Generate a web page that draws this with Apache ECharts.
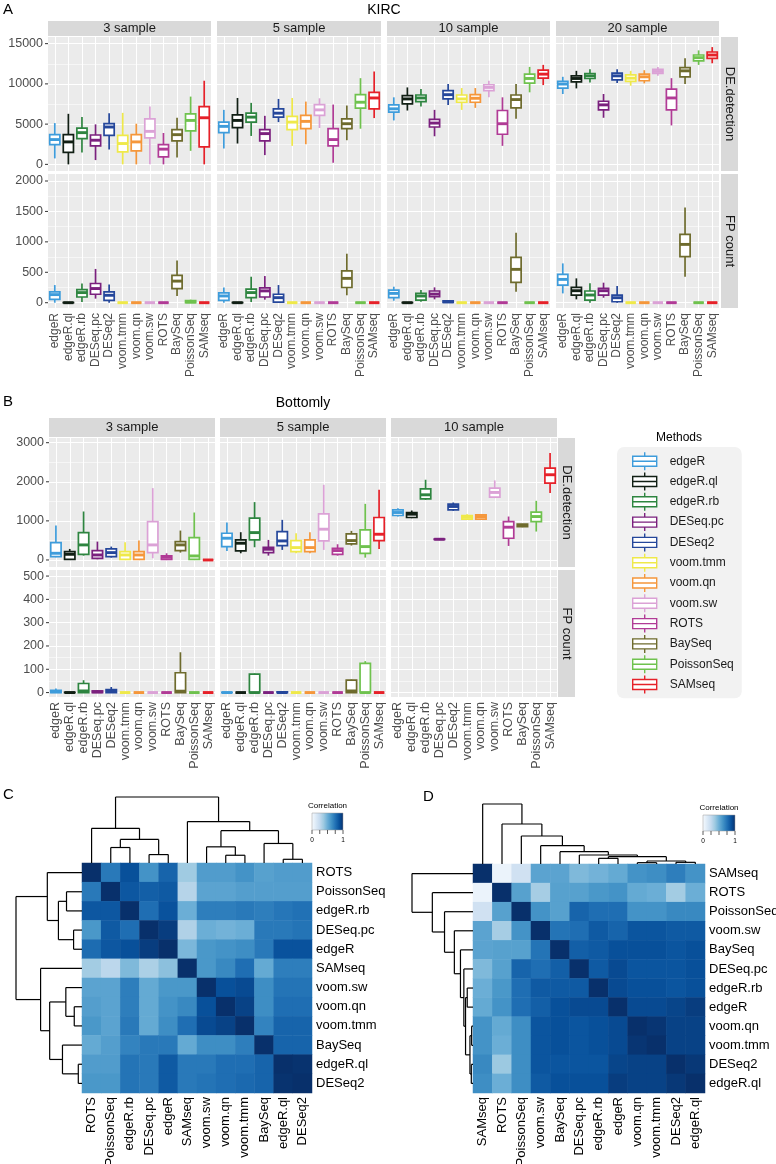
<!DOCTYPE html>
<html><head><meta charset="utf-8">
<script src="https://cdn.jsdelivr.net/npm/echarts@6/dist/echarts.min.js"></script>
<style>html,body{margin:0;padding:0;background:#fff}#main{width:776px;height:1164px}</style>
</head><body><div id="main"></div>
<script>
// ---------------- data ----------------
const methods = ['edgeR','edgeR.ql','edgeR.rb','DESeq.pc','DESeq2','voom.tmm','voom.qn','voom.sw','ROTS','BaySeq','PoissonSeq','SAMseq'];
const methodColors = ['#3E9CDB','#111F14','#2E8540','#7B217E','#25479B','#EFE94A','#F5973B','#DBA2D6','#B13B96','#6E6B2D','#6FC24E','#E62129'];

// box stats per method: [min, q1, median, q3, max]
const kircDE3 = [[740,2460,3080,3690,5130],[0,1480,2790,3690,6280],[1480,3200,3940,4510,5870],[530,2300,3000,3650,4970],[1850,3610,4640,5050,6360],[0,1560,2590,3610,6400],[0,1680,2790,3690,5050],[0,3280,4100,5660,7180],[0,940,1890,2460,3900],[860,2910,3690,4310,5790],[1680,4150,5460,6280,8420],[0,2180,5790,7180,10390]];
const kircDE5 = [[1970,3940,4720,5250,6770],[2590,4560,5460,6160,8250],[3530,5250,5870,6360,7640],[1150,2910,3820,4310,6030],[5250,5870,6360,6900,8130],[2300,4310,5250,5950,8250],[2500,4430,5340,6080,7800],[4520,6080,6770,7430,8210],[200,2300,3080,4430,7430],[3000,4430,5050,5660,7310],[4430,6980,7720,8660,10710],[5750,6900,8250,8950,11540]];
const kircDE10 = [[5460,6490,6900,7390,8330],[6690,7510,8130,8540,9560],[7180,7800,8250,8620,9360],[3490,4640,5130,5580,6770],[7390,8130,8660,9150,9980],[6770,7720,8130,8620,9480],[7020,7720,8210,8660,9480],[8330,9150,9560,9890,10390],[2300,3740,5050,6690,8330],[5660,7020,8050,8620,9980],[8950,10100,10670,11210,12110],[9850,10710,11210,11700,12360]];
const kircDE20 = [[8740,9480,9980,10300,10880],[9440,10260,10670,11000,11620],[10180,10670,11000,11290,11820],[5790,6770,7390,7840,8740],[10100,10510,11000,11330,11820],[9770,10300,10710,11120,11620],[10060,10390,10880,11210,11700],[11000,11290,11540,11820,12110],[4840,6770,8250,9360,10710],[9980,10880,11620,12030,13180],[12360,12850,13260,13590,14160],[12560,13180,13590,13960,14570]];
const kircFP3 = [[0,55,133,178,290],[0,0,0,3,8],[11,94,166,216,316],[67,139,233,316,555],[0,39,122,178,300],[0,0,0,0,0],[0,0,0,0,0],[0,0,0,0,0],[0,0,0,0,0],[111,233,355,450,694],[0,0,11,33,50],[0,0,0,0,0]];
const kircFP5 = [[0,39,111,161,250],[0,0,0,3,8],[11,83,166,222,427],[50,94,194,244,438],[0,11,83,139,290],[0,0,0,0,0],[0,0,0,0,0],[0,0,0,0,0],[0,0,0,0,0],[122,250,400,522,805],[0,0,0,0,0],[0,0,0,0,0]];
const kircFP10 = [[33,82,153,208,263],[0,0,0,3,8],[16,44,110,153,208],[55,99,142,192,252],[0,5,15,30,40],[0,0,0,0,0],[0,0,0,0,0],[0,0,0,0,0],[0,0,0,0,0],[181,334,548,745,1150],[0,0,0,0,0],[0,0,0,0,0]];
const kircFP20 = [[153,290,383,465,646],[55,126,197,252,400],[0,44,126,192,318],[82,126,197,235,329],[0,16,82,126,274],[0,0,0,0,0],[0,0,0,0,0],[0,0,0,0,0],[0,0,0,0,0],[427,756,958,1123,1566],[0,0,0,0,0],[0,0,0,0,0]];

const bottomlyDE3 = [[68,85,171,445,880],[0,17,145,214,282],[111,145,385,700,1240],[17,43,128,240,470],[60,85,188,282,342],[0,17,128,214,453],[0,17,128,214,496],[43,188,385,983,1838],[0,17,68,103,171],[188,240,385,470,752],[0,17,103,573,1214],[0,0,0,0,0]];
const bottomlyDE5 = [[231,342,556,684,958],[171,231,428,513,710],[325,513,700,1069,1480],[111,188,274,325,513],[257,368,487,727,1026],[171,214,316,496,684],[171,214,316,513,710],[257,487,787,1180,1924],[111,145,240,299,402],[368,410,496,667,744],[60,171,342,770,1436],[282,496,658,1086,1795]];
const bottomlyDE10 = [[1111,1137,1214,1283,1325],[1069,1086,1171,1214,1265],[1539,1565,1667,1821,2052],[520,525,530,535,540],[1257,1283,1368,1428,1471],[1026,1043,1094,1137,1171],[1043,1043,1111,1154,1171],[1582,1607,1727,1838,2035],[359,556,838,983,1111],[838,855,881,915,923],[727,983,1111,1223,1513],[1710,1967,2180,2351,2736]];
const bottomlyFP3 = [[0,0,4,10,17],[0,0,0,1,2],[0,0,7,39,53],[0,0,3,7,10],[0,0,7,13,24],[0,0,0,0,0],[0,0,0,0,0],[0,0,0,0,0],[0,0,0,0,0],[0,0,6,85,173],[0,0,0,0,0],[0,0,0,0,0]];
const bottomlyFP5 = [[0,0,0,1,2],[0,0,0,0,0],[0,0,0,79,82],[0,0,0,0,0],[0,0,0,3,6],[0,0,0,0,0],[0,0,0,0,0],[0,0,0,0,0],[0,0,0,0,0],[0,0,7,53,56],[0,0,0,125,135],[0,0,0,0,0]];
const bottomlyFP10 = [];

// tick labels
const kircDETicks = [0,5000,10000,15000];
const kircDEMinor = [2500,7500,12500];
const kircFPTicks = [0,500,1000,1500,2000];
const kircFPMinor = [250,750,1250,1750];
const botDETicks = [0,1000,2000,3000];
const botDEMinor = [500,1500,2500];
const botFPTicks = [0,100,200,300,400,500];
const botFPMinor = [50,150,250,350,450];

// correlation heatmaps
const orderC = ['ROTS','PoissonSeq','edgeR.rb','DESeq.pc','edgeR','SAMseq','voom.sw','voom.qn','voom.tmm','BaySeq','edgeR.ql','DESeq2'];
const corrC = [
 [1.00,0.72,0.88,0.62,0.80,0.37,0.58,0.58,0.62,0.56,0.58,0.58],
 [0.72,1.00,0.85,0.82,0.84,0.30,0.55,0.55,0.57,0.57,0.57,0.57],
 [0.85,0.85,1.00,0.76,0.87,0.50,0.70,0.70,0.72,0.70,0.73,0.75],
 [0.60,0.84,0.76,1.00,0.95,0.32,0.50,0.48,0.50,0.72,0.72,0.74],
 [0.77,0.85,0.88,0.95,1.00,0.46,0.60,0.62,0.64,0.72,0.87,0.87],
 [0.36,0.28,0.45,0.33,0.42,1.00,0.60,0.66,0.76,0.52,0.70,0.70],
 [0.55,0.55,0.70,0.52,0.60,0.60,1.00,0.88,0.90,0.64,0.74,0.74],
 [0.57,0.55,0.70,0.52,0.62,0.66,0.88,1.00,0.93,0.64,0.76,0.76],
 [0.60,0.55,0.72,0.52,0.64,0.76,0.90,0.93,1.00,0.68,0.80,0.80],
 [0.52,0.57,0.68,0.72,0.72,0.52,0.64,0.64,0.70,1.00,0.80,0.80],
 [0.58,0.58,0.74,0.72,0.84,0.72,0.72,0.76,0.76,0.80,1.00,0.99],
 [0.60,0.60,0.74,0.72,0.84,0.72,0.74,0.76,0.78,0.80,0.99,1.00]];
const orderD = ['SAMseq','ROTS','PoissonSeq','voom.sw','BaySeq','DESeq.pc','edgeR.rb','edgeR','voom.qn','voom.tmm','DESeq2','edgeR.ql'];
const corrD = [
 [1.00,0.06,0.20,0.55,0.55,0.45,0.48,0.52,0.62,0.64,0.70,0.62],
 [0.06,1.00,0.56,0.35,0.56,0.56,0.60,0.62,0.52,0.50,0.36,0.50],
 [0.20,0.56,1.00,0.62,0.56,0.80,0.76,0.76,0.62,0.62,0.66,0.66],
 [0.55,0.35,0.62,1.00,0.74,0.76,0.84,0.80,0.86,0.86,0.84,0.84],
 [0.55,0.56,0.56,0.74,1.00,0.82,0.84,0.88,0.88,0.88,0.86,0.88],
 [0.45,0.56,0.80,0.76,0.82,1.00,0.84,0.90,0.86,0.86,0.86,0.88],
 [0.50,0.60,0.76,0.84,0.84,0.84,1.00,0.90,0.88,0.88,0.86,0.88],
 [0.52,0.62,0.76,0.82,0.88,0.90,0.90,1.00,0.90,0.90,0.92,0.95],
 [0.62,0.52,0.64,0.86,0.88,0.86,0.88,0.90,1.00,0.98,0.93,0.93],
 [0.62,0.50,0.64,0.86,0.88,0.86,0.88,0.90,0.98,1.00,0.93,0.93],
 [0.66,0.38,0.64,0.86,0.86,0.86,0.86,0.92,0.93,0.93,1.00,0.97],
 [0.64,0.50,0.64,0.84,0.88,0.88,0.88,0.95,0.93,0.93,0.97,1.00]];
// dendrograms: [mergeHeight, left, right]
const treeC = [196, [103,'ROTS',[70,[46,'PoissonSeq','edgeR.rb'],[25,'DESeq.pc','edgeR']]], [123,'SAMseq',[96,[48,'voom.sw',[23,'voom.qn','voom.tmm']],[58,'BaySeq',[11,'edgeR.ql','DESeq2']]]]];
const treeD = [180,'SAMseq',[120,'ROTS',[84,'PoissonSeq',[55,'voom.sw',[37,'BaySeq',[27,'DESeq.pc',[22,[17,'edgeR.rb','edgeR'],[9,[4,'voom.qn','voom.tmm'],[5,'DESeq2','edgeR.ql']]]]]]]]];

// ---------------- styling / building ----------------
const FONT = '"Liberation Sans", Arial, Helvetica, sans-serif';
const AXIS_TXT = '#4D4D4D';
const BLUES = ['#F7FBFF','#DEEBF7','#C6DBEF','#9ECAE1','#6BAED6','#4292C6','#2171B5','#08519C','#08306B'];
const grids = [], xAxes = [], yAxes = [], series = [], graphics = [];

function renderBox(params, api) {
  const i = api.value(0);
  const color = methodColors[i];
  const bw = api.size([1, 0])[0] * 0.75;
  const pLo = api.coord([i, api.value(1)]);
  const pQ1 = api.coord([i, api.value(2)]);
  const pMed = api.coord([i, api.value(3)]);
  const pQ3 = api.coord([i, api.value(4)]);
  const pHi = api.coord([i, api.value(5)]);
  const cx = pMed[0], lw = 1.7;
  return {type: 'group', children: [
    {type: 'line', shape: {x1: cx, y1: pHi[1], x2: cx, y2: pQ3[1]}, style: {stroke: color, lineWidth: lw}},
    {type: 'line', shape: {x1: cx, y1: pQ1[1], x2: cx, y2: pLo[1]}, style: {stroke: color, lineWidth: lw}},
    {type: 'rect', shape: {x: cx - bw / 2, y: pQ3[1], width: bw, height: pQ1[1] - pQ3[1]}, style: {fill: '#FFFFFF', stroke: color, lineWidth: lw}},
    {type: 'line', shape: {x1: cx - bw / 2, y1: pMed[1], x2: cx + bw / 2, y2: pMed[1]}, style: {stroke: color, lineWidth: 2.9}}
  ]};
}

function addFacet(left, top, width, height, yMin, yMax, major, minor, boxes, showY, showX, xFont) {
  const gi = grids.length;
  grids.push({left, top, width, height, show: true, backgroundColor: '#EBEBEB', borderWidth: 0, outerBoundsMode: 'none'});
  xAxes.push({gridIndex: gi, type: 'category', data: methods, axisLine: {show: false},
    axisTick: {show: showX, alignWithLabel: true, length: 3, lineStyle: {color: '#333333', width: 1}},
    axisLabel: {show: showX, rotate: 90, interval: 0, hideOverlap: false, fontSize: xFont, color: AXIS_TXT, fontFamily: FONT, margin: 5},
    splitLine: {show: false}});
  yAxes.push({gridIndex: gi, type: 'value', min: yMin, max: yMax, show: false});
  const lines = [];
  major.forEach(v => lines.push({yAxis: v, lineStyle: {width: 1.1}, label: {show: showY}}));
  minor.forEach(v => lines.push({yAxis: v, lineStyle: {width: 0.55}, label: {show: false}}));
  methods.forEach((m, i) => lines.push({xAxis: i, lineStyle: {width: 1.1}, label: {show: false}}));
  series.push({type: 'custom', name: 'facet' + gi, xAxisIndex: gi, yAxisIndex: gi, z: 3, clip: false,
    encode: {x: 0, y: [1, 2, 3, 4, 5]}, renderItem: renderBox,
    data: boxes.map((b, i) => [i].concat(b)),
    markLine: {silent: true, symbol: ['none', 'none'], z: 1, animation: false, precision: 0,
      lineStyle: {color: '#FFFFFF', type: 'solid'},
      emphasis: {disabled: true},
      label: {position: 'start', distance: 0,
        formatter: p => '{v|' + p.value + '}{t| }',
        rich: {v: {fontSize: 12.5, color: AXIS_TXT, fontFamily: FONT, padding: [0, 2, 0, 0], verticalAlign: 'middle'},
               t: {width: 3, height: 1, backgroundColor: '#333333', verticalAlign: 'middle'}}},
      data: lines}});
}

function strip(x, y, w, h, text, vertical, fs) {
  graphics.push({type: 'rect', shape: {x, y, width: w, height: h}, style: {fill: '#D9D9D9'}, z: 1});
  graphics.push({type: 'text', x: x + w / 2, y: y + h / 2, rotation: vertical ? -Math.PI / 2 : 0, z: 2,
    style: {text, fill: '#1A1A1A', font: fs + 'px ' + FONT, align: 'center', verticalAlign: 'middle', textAlign: 'center', textVerticalAlign: 'middle'}});
}
function label(x, y, text, fs, align) {
  graphics.push({type: 'text', x, y, z: 2,
    style: {text, fill: '#000000', font: fs + 'px ' + FONT, align: align || 'center', verticalAlign: 'middle', textAlign: align || 'center', textVerticalAlign: 'middle'}});
}

// ---- Panel A (KIRC)
const kircCols = [[48, 163, '3 sample', kircDE3, kircFP3], [217, 164, '5 sample', kircDE5, kircFP5], [387, 163, '10 sample', kircDE10, kircFP10], [556, 163, '20 sample', kircDE20, kircFP20]];
kircCols.forEach((c, k) => {
  addFacet(c[0], 37, c[1], 134, -825, 15825, kircDETicks, kircDEMinor, c[3], k === 0, false, 12);
  addFacet(c[0], 174, c[1], 134, -87, 2115, kircFPTicks, kircFPMinor, c[4], k === 0, true, 12);
  strip(c[0], 21, c[1], 15, c[2], false, 13);
});
strip(721, 37, 17, 134, 'DE.detection', true, 13);
strip(721, 174, 17, 134, 'FP count', true, 13);
label(3, 10, 'A', 15, 'left');
label(384, 10, 'KIRC', 14);

// ---- Panel B (Bottomly)
const botCols = [[49, 166, '3 sample', bottomlyDE3, bottomlyFP3], [220, 166, '5 sample', bottomlyDE5, bottomlyFP5], [391, 166, '10 sample', bottomlyDE10, bottomlyFP10]];
botCols.forEach((c, k) => {
  addFacet(c[0], 438, c[1], 129, -180, 3120, botDETicks, botDEMinor, c[3], k === 0, false, 12.5);
  addFacet(c[0], 570, c[1], 127, -19, 526, botFPTicks, botFPMinor, c[4], k === 0, true, 12.5);
  strip(c[0], 418, c[1], 19, c[2], false, 13);
});
strip(558, 438, 17, 129, 'DE.detection', true, 13);
strip(558, 570, 17, 127, 'FP count', true, 13);
label(3, 402, 'B', 15, 'left');
label(303, 403, 'Bottomly', 14);
label(679, 438, 'Methods', 12);

// legend dummy series
methods.forEach((m, i) => series.push({type: 'custom', name: m, coordinateSystem: 'none', data: [], renderItem: () => null,
  itemStyle: {color: '#FFFFFF', borderColor: methodColors[i], borderWidth: 1.4}}));

// ---- Heatmaps
function heatData(mat) { const d = []; mat.forEach((row, r) => row.forEach((v, c) => d.push([c, r, v]))); return d; }
function dendroSegments(tree, order, swap) {
  const segs = [];
  function walk(node) {
    if (typeof node === 'string') return {p: order.indexOf(node), h: 0};
    const a = walk(node[1]), b = walk(node[2]), h = node[0];
    const s = [[a.p, a.h, a.p, h], [b.p, b.h, b.p, h], [a.p, h, b.p, h]];
    s.forEach(q => segs.push(swap ? [q[1], q[0], q[3], q[2]] : q));
    return {p: (a.p + b.p) / 2, h};
  }
  walk(tree);
  return segs;
}
function renderSeg(params, api) {
  const a = api.coord([api.value(0), api.value(1)]);
  const b = api.coord([api.value(2), api.value(3)]);
  return {type: 'line', shape: {x1: a[0], y1: a[1], x2: b[0], y2: b[1]}, style: {stroke: '#000000', lineWidth: 1.2}};
}
const heatIdx = [];
function addHeat(order, mat, tree, hl, ht, hw, hh, topH, leftW) {
  let gi = grids.length;
  grids.push({left: hl, top: ht, width: hw, height: hh, outerBoundsMode: 'none'});
  xAxes.push({gridIndex: gi, type: 'category', data: order, position: 'bottom', axisLine: {show: false}, axisTick: {show: false},
    axisLabel: {rotate: 90, interval: 0, hideOverlap: false, fontSize: 13, color: '#000000', fontFamily: FONT, margin: 4}, splitLine: {show: false}});
  yAxes.push({gridIndex: gi, type: 'category', data: order, inverse: true, position: 'right', axisLine: {show: false}, axisTick: {show: false},
    axisLabel: {interval: 0, hideOverlap: false, fontSize: 13, color: '#000000', fontFamily: FONT, margin: 4}, splitLine: {show: false}});
  heatIdx.push(series.length);
  series.push({type: 'heatmap', xAxisIndex: gi, yAxisIndex: gi, data: heatData(mat), itemStyle: {borderWidth: 0}, emphasis: {disabled: true}});
  const rootH = tree[0];
  // top dendrogram
  gi = grids.length;
  grids.push({left: hl, top: ht - topH, width: hw, height: topH, outerBoundsMode: 'none'});
  xAxes.push({gridIndex: gi, type: 'value', min: -0.5, max: order.length - 0.5, show: false});
  yAxes.push({gridIndex: gi, type: 'value', min: 0, max: rootH, show: false});
  series.push({type: 'custom', xAxisIndex: gi, yAxisIndex: gi, renderItem: renderSeg, encode: {x: [0, 2], y: [1, 3]}, clip: false,
    data: dendroSegments(tree, order, false)});
  // left dendrogram
  gi = grids.length;
  grids.push({left: hl - leftW, top: ht, width: leftW, height: hh, outerBoundsMode: 'none'});
  xAxes.push({gridIndex: gi, type: 'value', min: 0, max: rootH, inverse: true, show: false});
  yAxes.push({gridIndex: gi, type: 'value', min: -0.5, max: order.length - 0.5, inverse: true, show: false});
  series.push({type: 'custom', xAxisIndex: gi, yAxisIndex: gi, renderItem: renderSeg, encode: {x: [0, 2], y: [1, 3]}, clip: false,
    data: dendroSegments(tree, order, true)});
}
addHeat(orderC, corrC, treeC, 82, 863, 230, 230, 66, 66);
addHeat(orderD, corrD, treeD, 473, 864, 232, 229, 60, 61);
label(3, 795, 'C', 15, 'left');
label(423, 797, 'D', 15, 'left');

function colorbar(x, y, w, h) {
  graphics.push({type: 'text', x: x + w / 2, y: y - 7, z: 2, style: {text: 'Correlation', fill: '#000', font: '8px ' + FONT, align: 'center', verticalAlign: 'middle', textAlign: 'center', textVerticalAlign: 'middle'}});
  graphics.push({type: 'rect', shape: {x, y, width: w, height: h}, z: 2,
    style: {fill: {type: 'linear', x: 0, y: 0, x2: 1, y2: 0, colorStops: BLUES.map((c, i) => ({offset: i / (BLUES.length - 1), color: c}))}, stroke: '#9A9A9A', lineWidth: 0.5}});
  for (let k = 0; k <= 4; k++) {
    const xx = x + w * k / 4;
    graphics.push({type: 'line', z: 2, shape: {x1: xx, y1: y + h, x2: xx, y2: y + h + 4}, style: {stroke: '#333', lineWidth: 0.8}});
  }
  graphics.push({type: 'text', x: x, y: y + h + 10, z: 2, style: {text: '0', fill: '#000', font: '6.5px ' + FONT, align: 'center', verticalAlign: 'middle', textAlign: 'center', textVerticalAlign: 'middle'}});
  graphics.push({type: 'text', x: x + w, y: y + h + 10, z: 2, style: {text: '1', fill: '#000', font: '6.5px ' + FONT, align: 'center', verticalAlign: 'middle', textAlign: 'center', textVerticalAlign: 'middle'}});
}
colorbar(312, 813, 31, 17);
colorbar(703, 815, 32, 16);

const BOX_ICON = 'path://M0,4H24V14H0Z M12,0V4 M12,14V18 M0,9H24';

const option = {
  animation: false,
  backgroundColor: '#FFFFFF',
  textStyle: {fontFamily: FONT},
  grid: grids, xAxis: xAxes, yAxis: yAxes,
  visualMap: [{type: 'continuous', show: false, min: 0, max: 1, seriesIndex: heatIdx, inRange: {color: BLUES}}],
  legend: {show: true, orient: 'vertical', left: 617, top: 447, padding: [4.5, 8, 4, 15],
    backgroundColor: '#F2F2F2', borderRadius: 7, itemWidth: 24, itemHeight: 18, itemGap: 0.9,
    selectedMode: false, icon: BOX_ICON,
    textStyle: {fontSize: 12, color: '#1A1A1A', fontFamily: FONT, padding: [0, 0, 0, 8]},
    data: methods.map((m, i) => ({name: m, icon: BOX_ICON, itemStyle: {color: '#FFFFFF', borderColor: methodColors[i], borderWidth: 1.4}}))},
  graphic: graphics,
  series: series
};
const chart = echarts.init(document.getElementById('main'), null, {renderer: 'canvas'});
chart.setOption(option);
</script>
</body></html>
